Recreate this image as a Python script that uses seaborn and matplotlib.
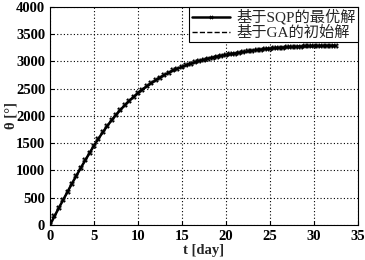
import numpy as np
import pandas as pd
import matplotlib
matplotlib.use("Agg")
import matplotlib.pyplot as plt
import seaborn as sns

# time in days, rotation angle in degrees
t_day = [
    0.0, 0.5, 1.0, 1.5, 2.0, 2.5, 3.0, 3.5, 4.0, 4.5, 5.0, 5.5, 6.0, 6.5,
    7.0, 7.5, 8.0, 8.5, 9.0, 9.5, 10.0, 10.5, 11.0, 11.5, 12.0, 12.5, 13.0,
    13.5, 14.0, 14.5, 15.0, 15.5, 16.0, 16.5, 17.0, 17.5, 18.0, 18.5, 19.0,
    19.5, 20.0, 20.5, 21.0, 21.5, 22.0, 22.5, 23.0, 23.5, 24.0, 24.5, 25.0,
    25.5, 26.0, 26.5, 27.0, 27.5, 28.0, 28.5, 29.0, 29.5, 30.0, 30.5, 31.0,
    31.5, 32.0, 32.5,
]
theta_sqp = [
    0, 155, 310, 460, 610, 760, 905, 1045, 1185, 1320, 1455, 1580, 1700, 1815,
    1920, 2020, 2110, 2195, 2275, 2350, 2420, 2485, 2545, 2600, 2655, 2705, 2750,
    2795, 2835, 2870, 2900, 2930, 2960, 2985, 3010, 3033, 3053, 3072, 3090,
    3105, 3118, 3132, 3146, 3160, 3173, 3186, 3198, 3209, 3219, 3228, 3236,
    3243, 3250, 3256, 3261, 3266, 3270, 3274, 3277, 3280, 3282, 3284, 3286,
    3287, 3288, 3289,
]
theta_ga = list(theta_sqp)

labels = ["基于SQP的最优解", "基于GA的初始解"]
x_ticks = [0, 5, 10, 15, 20, 25, 30, 35]
y_ticks = [0, 500, 1000, 1500, 2000, 2500, 3000, 3500, 4000]

sns.set_style("ticks")
plt.rcParams["font.family"] = ["Liberation Serif", "Noto Sans CJK SC"]
plt.rcParams["xtick.direction"] = "in"
plt.rcParams["ytick.direction"] = "in"

df = pd.DataFrame({"t": t_day, "sqp": theta_sqp, "ga": theta_ga})

fig = plt.figure(figsize=(3.65, 2.6), dpi=100)
ax = fig.add_axes([0.137, 0.135, 0.843, 0.838])

sns.lineplot(data=df, x="t", y="ga", ax=ax, color="black", linestyle="--",
             linewidth=1.0, label=labels[1])
sns.lineplot(data=df, x="t", y="sqp", ax=ax, color="black", linewidth=1.8,
             marker="X", markersize=4, markeredgewidth=0, label=labels[0])

ax.set_xlim(0, 35)
ax.set_ylim(0, 4000)
ax.set_xticks(x_ticks)
ax.set_yticks(y_ticks)
ax.grid(True, color="black", linestyle=(0, (1, 2)), linewidth=0.8)
for s in ax.spines.values():
    s.set_color("black")
    s.set_linewidth(0.8)
ax.tick_params(length=3, width=0.8, colors="black")
for lab in ax.get_xticklabels() + ax.get_yticklabels():
    lab.set_fontsize(10.5)
    lab.set_fontweight("bold")
ax.set_xlabel("t [day]", fontsize=10.5, fontweight="bold", labelpad=1)
ax.set_ylabel("θ [°]", fontsize=10.5, fontweight="bold")
ax.yaxis.set_label_coords(-0.105, 0.5)

h, l = ax.get_legend_handles_labels()
leg = ax.legend(h[::-1], l[::-1], loc="upper right", fontsize=11,
                frameon=True, fancybox=False, framealpha=1,
                edgecolor="black", borderpad=0.15, labelspacing=0.05,
                handlelength=2.5, handletextpad=0.4, borderaxespad=0)
leg.get_frame().set_linewidth(0.8)
leg.legend_handles[0].set_markersize(3)

fig.savefig("out.png", dpi=100)
